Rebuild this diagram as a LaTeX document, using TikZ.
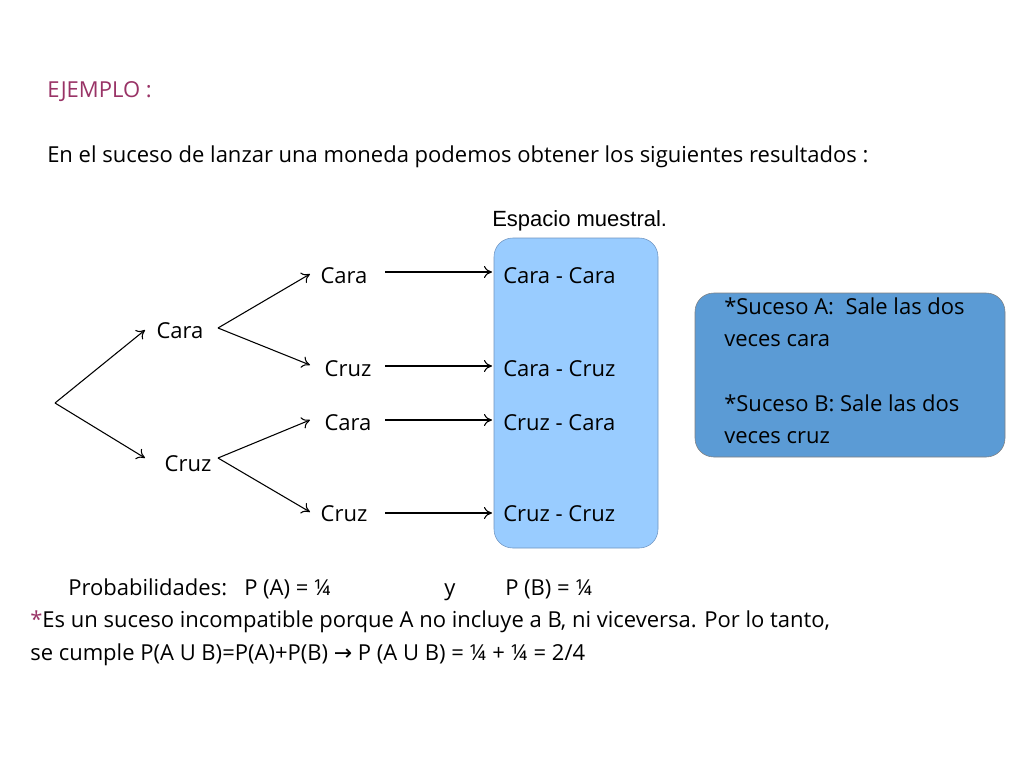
\documentclass[tikz,border=0pt]{standalone}
\usepackage{fontspec}
\setmainfont{Open Sans}
\newfontfamily\arialf{Liberation Sans}
\newfontfamily\djv{DejaVu Sans}
\usetikzlibrary{arrows.meta}
\definecolor{ttl}{HTML}{993366}
\definecolor{espc}{HTML}{99CCFF}
\definecolor{espb}{HTML}{6F94C0}
\definecolor{boxc}{HTML}{5B9BD5}
\begin{document}
\begin{tikzpicture}[x=0.75pt,y=-0.75pt,
  txt/.style={inner sep=0pt,text height=11pt,text depth=3.5pt,font=\fontsize{16.5}{19}\selectfont},
  lt/.style={txt,anchor=west},
  arr/.style={-{To[length=6pt,width=9pt]},line width=0.8pt}]
\useasboundingbox (0,0) rectangle (1024,768);
\node[lt,text=ttl] (t) at (47,92) {EJEMPLO :};
\node[lt] (l1) at (47,157) {En el suceso de lanzar una moneda podemos obtener los siguientes resultados :};
\node[lt,font=\arialf\fontsize{16.5}{19}\selectfont] (em) at (492,221) {Espacio muestral.};
\draw[espb,fill=espc,rounded corners=14pt] (494,238) rectangle (658,548);
\draw[gray,fill=boxc,rounded corners=14pt] (695,293) rectangle (1005,457);
\node[lt] (sa1) at (724,309) {*Suceso A:\ \ Sale las dos};
\node[lt] (sa2) at (724,341) {veces cara};
\node[lt] (sb1) at (724,406) {*Suceso B: Sale las dos};
\node[lt] (sb2) at (724,438) {veces cruz};
% tree
\coordinate (r) at (55,403);
\node[txt] (c1) at (180,333) {Cara};
\node[txt] (z1) at (188,466) {Cruz};
\coordinate (c1o) at (218,328);
\coordinate (z1o) at (218,458);
\coordinate (c1e) at (145,330);
\coordinate (z1e) at (145,458);
\draw[arr] (r) -- (c1e);
\draw[arr] (r) -- (z1e);
\node[txt] (cc) at (344,278) {Cara};
\node[txt] (cz) at (348,371) {Cruz};
\node[txt] (zc) at (348,425) {Cara};
\node[txt] (zz) at (344,516) {Cruz};
\coordinate (e1) at (310,274);
\coordinate (e2) at (310,365);
\coordinate (e3) at (310,420);
\coordinate (e4) at (310,512);
\draw[arr] (c1o) -- (e1);
\draw[arr] (c1o) -- (e2);
\draw[arr] (z1o) -- (e3);
\draw[arr] (z1o) -- (e4);
\node[lt] (o1) at (503,278) {Cara - Cara};
\node[lt] (o2) at (503,371) {Cara - Cruz};
\node[lt] (o3) at (503,425) {Cruz - Cara};
\node[lt] (o4) at (503,516) {Cruz - Cruz};
\coordinate (s1) at (385,272); \coordinate (f1) at (492,272);
\coordinate (s2) at (385,366); \coordinate (f2) at (492,366);
\coordinate (s3) at (385,420); \coordinate (f3) at (492,420);
\coordinate (s4) at (385,513); \coordinate (f4) at (492,513);
\draw[arr] (s1) -- (f1);
\draw[arr] (s2) -- (f2);
\draw[arr] (s3) -- (f3);
\draw[arr] (s4) -- (f4);
% bottom
\node[lt] (p1) at (68,590) {Probabilidades:\ \ \ P (A) = ¼};
\node[lt] (py) at (444,590) {y};
\node[lt] (p2) at (505,590) {P (B) = ¼};
\node[lt] (b1) at (30,622) {\textcolor{ttl}{*}Es un suceso incompatible porque A no incluye a B, ni viceversa. Por lo tanto,};
\node[lt] (b2) at (30,655) {se cumple P(A U B)=P(A)+P(B) {\djv →} P (A U B) = ¼ + ¼ = 2/4};
\end{tikzpicture}
\end{document}
